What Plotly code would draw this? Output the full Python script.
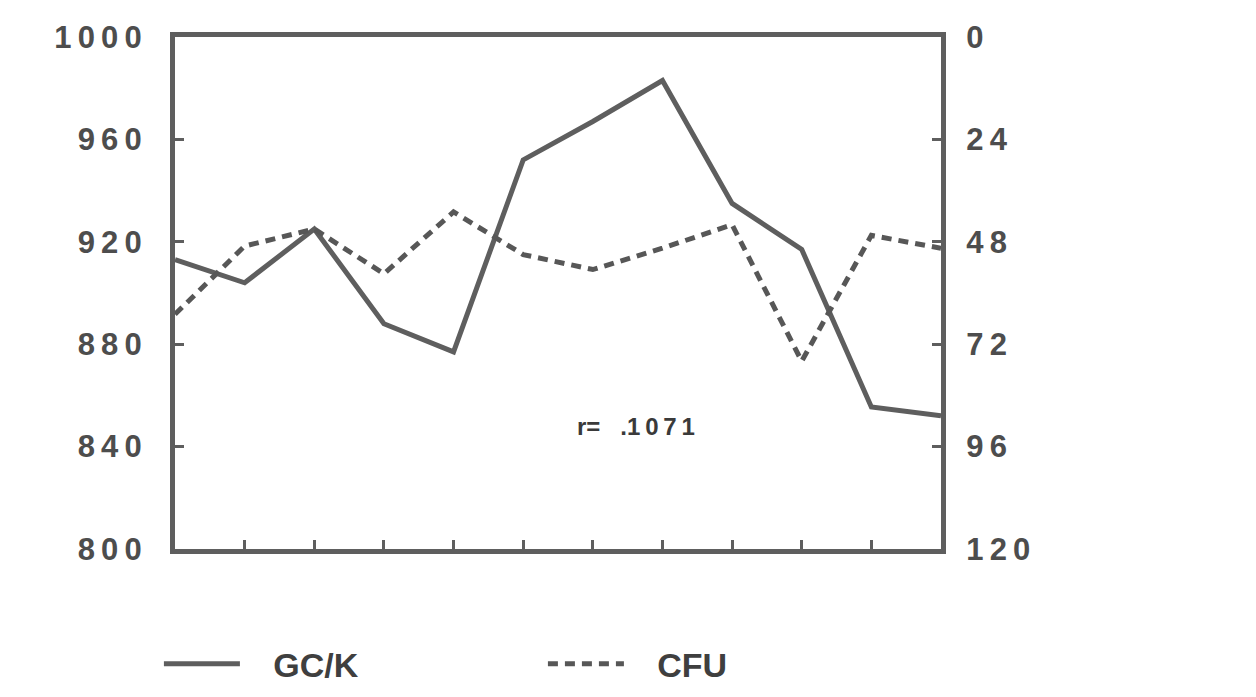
import plotly.graph_objects as go

# ---- data ----
samples = list(range(12))
gck = [913, 904, 925, 888, 877, 952, 967, 983, 935, 917, 855.5, 852]
cfu = [65, 49, 45, 55.5, 41, 51, 54.5, 49.5, 44, 76, 46.5, 49.5]
left_ticks = [800, 840, 880, 920, 960, 1000]
right_ticks = [0, 24, 48, 72, 96, 120]
x_ticks = list(range(1, 11))
r_value = ".1071"

THIN = "\u2009"
NB = "\u00a0"
def spaced(v):
    return THIN.join(str(v))

line_col = "#5e5e5e"
text_col = "#4d4d4d"
FONT = "Liberation Sans, Arial, sans-serif"

fig = go.Figure()
fig.add_trace(go.Scatter(
    x=samples, y=gck, name=NB * 3 + "GC/K", mode="lines",
    line=dict(color=line_col, width=5), yaxis="y"))
fig.add_trace(go.Scatter(
    x=samples, y=cfu, name=NB * 3 + "CFU", mode="lines",
    line=dict(color="#575757", width=5, dash="10px,7px"), yaxis="y2"))

fig.add_annotation(x=6.62, y=848, xref="x", yref="y",
                   text="r=" + NB * 3 + r_value[:2] + THIN + THIN.join(r_value[2:]),
                   showarrow=False,
                   font=dict(family=FONT, size=24, color="#3a3a3a", weight="bold"))

fig.update_layout(
    width=1256, height=697,
    margin=dict(l=167, r=323, t=22, b=137),
    paper_bgcolor="white", plot_bgcolor="white",
    font=dict(family=FONT, color=text_col),
    xaxis=dict(range=[0, 11], tickvals=x_ticks, ticktext=[""] * len(x_ticks),
               ticks="inside", ticklen=9, tickwidth=3, tickcolor=line_col,
               showline=True, linewidth=5, linecolor=line_col, mirror=True,
               showgrid=False, zeroline=False),
    yaxis=dict(range=[800, 1000], tickvals=left_ticks,
               ticktext=[spaced(v) for v in left_ticks],
               ticks="inside", ticklen=9, tickwidth=3, tickcolor=line_col,
               showline=True, linewidth=5, linecolor=line_col,
               showgrid=False, zeroline=False, ticklabelstandoff=22,
               tickfont=dict(family=FONT, size=31, color=text_col, weight="bold")),
    yaxis2=dict(range=[120, 0], tickvals=right_ticks,
                ticktext=[spaced(v) for v in right_ticks],
                overlaying="y", side="right",
                ticks="inside", ticklen=9, tickwidth=3, tickcolor=line_col,
                showline=True, linewidth=5, linecolor=line_col,
                showgrid=False, zeroline=False, ticklabelstandoff=14,
                tickfont=dict(family=FONT, size=31, color=text_col, weight="bold")),
    legend=dict(orientation="h", x=-0.021, y=-0.225, xanchor="left", yanchor="middle",
                font=dict(family=FONT, size=34, color="#3f3f3f", weight="bold"),
                entrywidth=293, entrywidthmode="pixels", itemwidth=76,
                bgcolor="rgba(0,0,0,0)"),
    showlegend=True,
)

fig.write_html("out.html")
